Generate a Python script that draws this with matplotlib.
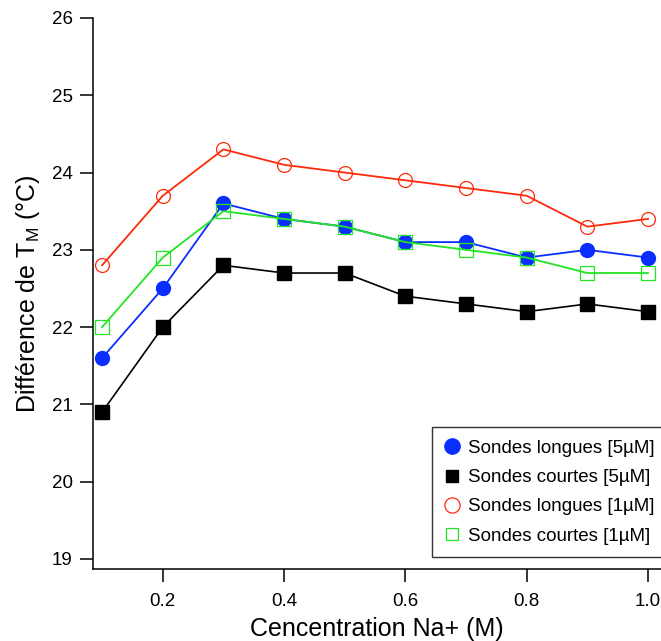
import matplotlib
matplotlib.use("Agg")
import matplotlib.pyplot as plt
from matplotlib.lines import Line2D

plt.rcParams['font.family'] = ['Liberation Sans', 'DejaVu Sans']

conc = [0.1, 0.2, 0.3, 0.4, 0.5, 0.6, 0.7, 0.8, 0.9, 1.0]
longues_5 = [21.6, 22.5, 23.6, 23.4, 23.3, 23.1, 23.1, 22.9, 23.0, 22.9]
courtes_5 = [20.9, 22.0, 22.8, 22.7, 22.7, 22.4, 22.3, 22.2, 22.3, 22.2]
longues_1 = [22.8, 23.7, 24.3, 24.1, 24.0, 23.9, 23.8, 23.7, 23.3, 23.4]
courtes_1 = [22.0, 22.9, 23.5, 23.4, 23.3, 23.1, 23.0, 22.9, 22.7, 22.7]
labels = ["Sondes longues [5µM]", "Sondes courtes [5µM]",
          "Sondes longues [1µM]", "Sondes courtes [1µM]"]
xticks = [0.2, 0.4, 0.6, 0.8, 1.0]
xticklabels = ["0.2", "0.4", "0.6", "0.8", "1.0"]
yticks = [19, 20, 21, 22, 23, 24, 25, 26]

fig = plt.figure(figsize=(6.61, 6.41), dpi=100)
ax = fig.add_axes([93/661, 72/641, 568/661, 551/641])

blue = '#0a2eff'
red = '#ff2a0a'
green = '#22e622'

ax.plot(conc, courtes_5, color='black', lw=1.2, marker='s', ms=9.5,
        mfc='black', mec='black', zorder=3)
ax.plot(conc, longues_1, color=red, lw=1.3, marker='o', ms=10,
        mfc='none', mec=red, mew=0.9, zorder=3)
ax.plot(conc, longues_5, color=blue, lw=1.3, marker='o', ms=10,
        mfc=blue, mec=blue, zorder=4)
ax.plot(conc, courtes_1, color=green, lw=1.3, marker='s', ms=9.5,
        mfc='none', mec=green, mew=0.9, zorder=5)

ax.set_xlim(0.085, 1.0214)
ax.set_ylim(18.87, 26)
ax.set_xticks(xticks)
ax.set_xticklabels(xticklabels)
ax.set_yticks(yticks)
for s in ['top', 'right']:
    ax.spines[s].set_visible(False)
for s in ['left', 'bottom']:
    ax.spines[s].set_linewidth(1.1)
ax.tick_params(axis='both', direction='out', length=9.5, width=1.1,
               labelsize=13.5, pad=5)
ax.tick_params(axis='x', pad=8)

ax.set_xlabel("Cencentration Na+ (M)", fontsize=18, labelpad=5)
ax.set_ylabel("Différence de T$_{\\mathregular{M}}$ (°C)", fontsize=18, labelpad=7)

handles = [
    Line2D([], [], ls='none', marker='o', ms=11, mfc=blue, mec=blue),
    Line2D([], [], ls='none', marker='s', ms=9, mfc='black', mec='black'),
    Line2D([], [], ls='none', marker='o', ms=11, mfc='none', mec=red, mew=0.9),
    Line2D([], [], ls='none', marker='s', ms=9, mfc='none', mec=green, mew=0.9),
]
leg = ax.legend(handles, labels, loc='lower left',
                bbox_to_anchor=(0.597, 0.022),
                fontsize=13.5, frameon=True, fancybox=False, edgecolor='black',
                handlelength=0.8, handletextpad=0.45, labelspacing=0.65,
                borderpad=0.65, borderaxespad=0)
leg.get_frame().set_linewidth(1.0)

fig.savefig("out.png", dpi=100)
